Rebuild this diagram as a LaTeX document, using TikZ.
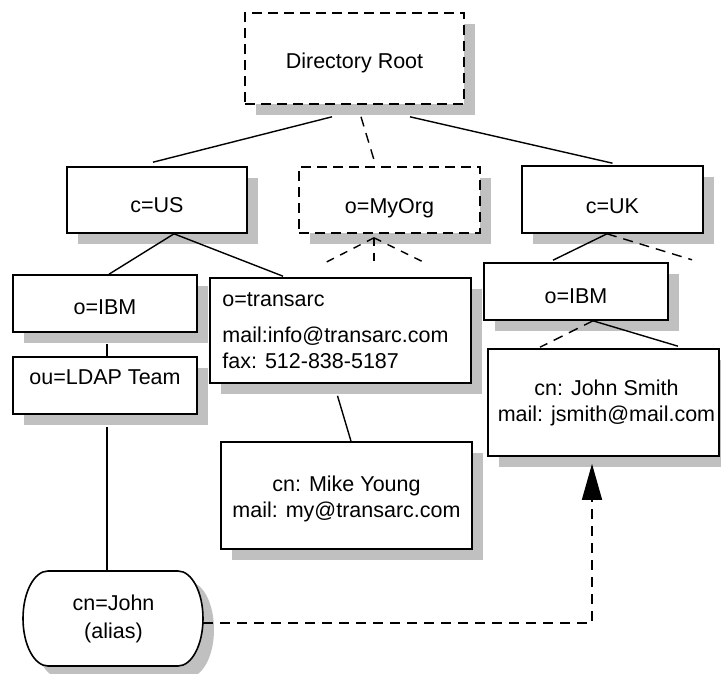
\documentclass[tikz,border=0pt]{standalone}
\usepackage{fontspec}
\setmainfont{Liberation Sans}
\usetikzlibrary{shadows,calc,arrows.meta}
\definecolor{shadowgray}{HTML}{C0C0C0}
\newcommand\jstadium{(-65,-47.5) -- (65,-47.5) .. controls (78.8,-47.5) and (90,-26.2) .. (90,0) .. controls (90,26.2) and (78.8,47.5) .. (65,47.5) -- (-65,47.5) .. controls (-78.8,47.5) and (-90,26.2) .. (-90,0) .. controls (-90,-26.2) and (-78.8,-47.5) .. (-65,-47.5) -- cycle}
\begin{document}
\begin{tikzpicture}[x=1pt,y=-1pt,
  every node/.style={font=\fontsize{21.5}{26}\selectfont},
  box/.style={draw, line width=1.6pt, fill=white, inner sep=0pt,
    general shadow={fill=shadowgray, draw=none, shadow xshift=11pt, shadow yshift=-11pt}},
  dbox/.style={box, dash pattern=on 10pt off 6pt},
  txt/.style={inner sep=0pt, anchor=base},
  conn/.style={line width=1.4pt},
  dconn/.style={conn, dash pattern=on 10pt off 7pt}]
\useasboundingbox[fill=white] (0,0) rectangle (721,673);

% boxes
\node (root) [dbox, minimum width=219pt, minimum height=91pt, text height=19pt, text depth=0pt] at (354.5,58.5) {Directory Root};
\node (cUS) [box, minimum width=180pt, minimum height=66pt, text height=24pt, text depth=0pt] at (157,200) {c=US};
\node (myorg) [dbox, minimum width=181pt, minimum height=66pt, text height=26pt, text depth=0pt] at (389.5,200) {o=MyOrg\hspace{19pt}};
\node (cUK) [box, minimum width=181pt, minimum height=67pt, text height=28pt, text depth=0pt] at (612.5,199.5) {c=UK};
\node (ibm1) [box, minimum width=184pt, minimum height=57pt, text height=21pt, text depth=0pt] at (105,303.5) {o=IBM\hspace{16pt}};
\node (ldap) [box, minimum width=184pt, minimum height=57pt, text height=0pt, text depth=3pt] at (105,385.5) {ou=LDAP Team};
\node (ibm2) [box, minimum width=184pt, minimum height=57pt, text height=23pt, text depth=0pt] at (576,291.5) {o=IBM};
\node (transarc) [box, minimum width=261pt, minimum height=105pt] at (340.5,330.5) {};
\node (mike) [box, minimum width=251pt, minimum height=107pt] at (346.5,495.5) {};
\node (jsmith) [box, minimum width=231pt, minimum height=107pt] at (603.5,402.5) {};

% alias entry (stadium shape)
\node (cnjohn) [draw=none, minimum width=180pt, minimum height=95pt, inner sep=0pt] at (113,618.5) {};
\fill[shadowgray, shift={($(cnjohn.center)+(11,11)$)}] \jstadium;
\draw[line width=1.6pt, fill=white, shift={(cnjohn.center)}] \jstadium;

% texts of multi-line entries
\node (tr1) [txt, anchor=base west] at ($(transarc.north west)+(13,29)$) {o=transarc};
\node (tr2) [txt, anchor=base west] at ($(transarc.north west)+(13,65)$) {mail:info@transarc.com};
\node (tr3) [txt, anchor=base west] at ($(transarc.north west)+(13,91)$) {fax: 512-838-5187};
\node (mk1) [txt] at ($(mike.center)+(0,-4.5)$) {cn: Mike Young};
\node (mk2) [txt] at ($(mike.center)+(0,21.5)$) {mail: my@transarc.com};
\node (js1) [txt] at ($(jsmith.center)+(3,-7.5)$) {cn: John Smith};
\node (js2) [txt] at ($(jsmith.center)+(3,18.5)$) {mail: jsmith@mail.com};
\node (cj1) [txt] at ($(cnjohn.center)+(0.5,-8.5)$) {cn=John};
\node (cj2) [txt] at ($(cnjohn.center)+(0.5,19.5)$) {(alias)};

% free ends
\coordinate (f1) at ($(myorg.south)+(-66.5,30)$);
\coordinate (f2) at ($(myorg.south)+(-15.5,30)$);
\coordinate (f3) at ($(myorg.south)+(37.5,30)$);
\coordinate (fa) at ($(myorg.south)+(-15.5,4)$);
\coordinate (f4) at ($(cUK.south)+(79.5,26)$);

% connectors
\draw[conn] ($(root.south)+(-22.5,12)$) -- ($(cUS.north)+(-4,-4)$);
\draw[dconn] ($(root.south)+(6.5,12)$) -- ($(myorg.north)+(-14.5,-3)$);
\draw[conn] ($(root.south)+(55.5,12)$) -- ($(cUK.north)+(0,-2)$);
\draw[conn] ($(cUS.south)+(17,0)$) -- ($(ibm1.north)+(4,0)$);
\draw[conn] ($(cUS.south)+(17,0)$) -- ($(transarc.north)+(-57.5,-1)$);
\draw[dconn, dash pattern=on 8pt off 7pt] (fa) -- (f1);
\draw[dconn, dash pattern=on 8pt off 7pt] (fa) -- (f2);
\draw[dconn, dash pattern=on 8pt off 7pt] (fa) -- (f3);
\draw[conn] ($(cUK.south)+(-5.5,0)$) -- ($(ibm2.north)+(-23,-2)$);
\draw[dconn] ($(cUK.south)+(-5.5,0)$) -- (f4);
\draw[conn] ($(ibm1.south)+(2,11)$) -- ($(ldap.north)+(2,0)$);
\draw[conn] ($(ldap.south)+(2,12)$) -- ($(cnjohn.north)+(-6,0)$);
\draw[conn] ($(transarc.south)+(-3,12)$) -- ($(mike.north)+(4.5,0)$);
\draw[conn] ($(ibm2.south)+(17,0)$) -- ($(jsmith.north)+(74.5,-2)$);
\draw[dconn] ($(ibm2.south)+(17,0)$) -- ($(jsmith.north)+(-63.5,-1)$);
\draw[dconn, -{Triangle[length=36pt,width=20pt]}] ($(cnjohn.east)+(0,4.5)$) -| ($(jsmith.south)+(-11.5,7)$);
\end{tikzpicture}
\end{document}
